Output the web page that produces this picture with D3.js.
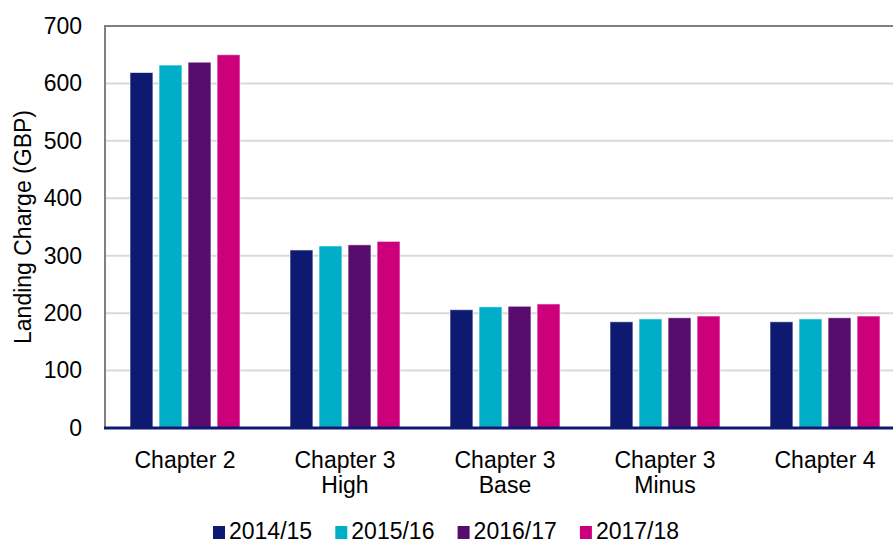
<!DOCTYPE html>
<html>
<head>
<meta charset="utf-8">
<script src="https://cdn.jsdelivr.net/npm/d3@7"></script>
<style>
	body { margin: 0; background: #fff; }
	text { font-family: Arial, "Liberation Sans", sans-serif; fill: #000; }
</style>
</head>
<body>
<script>
var categories = [['Chapter 2'], ['Chapter 3', 'High'], ['Chapter 3', 'Base'], ['Chapter 3', 'Minus'], ['Chapter 4']];
var seriesNames = ['2014/15', '2015/16', '2016/17', '2017/18'];
var seriesColors = ['#0e1a72', '#00aec7', '#580c6e', '#cc007a'];
var values2014 = [619, 310, 206, 185, 185];
var values2015 = [632, 317, 211, 190, 190];
var values2016 = [637, 319, 212, 192, 192];
var values2017 = [650, 325, 216, 195, 195];
var yTicks = [0, 100, 200, 300, 400, 500, 600, 700];

var seriesValues = [values2014, values2015, values2016, values2017];
var width = 893, height = 544;
var plotLeft = 105, plotRight = 905, plotTop = 26, plotBottom = 428;
var fontSize = 23;

var svg = d3.select('body').append('svg')
	.attr('width', width)
	.attr('height', height);

var catKeys = categories.map(function (c) { return c.join(' '); });
var x0 = d3.scaleBand()
	.domain(catKeys)
	.range([plotLeft, plotRight])
	.paddingInner(0.3125)
	.paddingOuter(0.15625);
var x1 = d3.scaleBand()
	.domain(seriesNames)
	.range([0, x0.bandwidth()])
	.paddingInner(0.21)
	.paddingOuter(0);
var y = d3.scaleLinear()
	.domain([0, 700])
	.range([plotBottom, plotTop]);

// gridlines
svg.append('g').selectAll('line').data(yTicks.slice(1, -1)).enter().append('line')
	.attr('x1', plotLeft).attr('x2', plotRight)
	.attr('y1', function (d) { return y(d); })
	.attr('y2', function (d) { return y(d); })
	.attr('stroke', '#d9d9d9')
	.attr('stroke-width', 2);

// frame top + left
svg.append('line')
	.attr('x1', plotLeft).attr('x2', plotRight)
	.attr('y1', y(700)).attr('y2', y(700))
	.attr('stroke', '#808080').attr('stroke-width', 2);
svg.append('line')
	.attr('x1', plotLeft).attr('x2', plotLeft)
	.attr('y1', y(700) - 1).attr('y2', y(0))
	.attr('stroke', '#808080').attr('stroke-width', 2);

// bars
var rows = catKeys.map(function (k, i) {
	return { key: k, vals: seriesNames.map(function (s, j) { return { s: s, j: j, v: seriesValues[j][i] }; }) };
});
svg.append('g').selectAll('g').data(rows).enter().append('g')
	.attr('transform', function (d) { return 'translate(' + x0(d.key) + ',0)'; })
	.selectAll('rect').data(function (d) { return d.vals; }).enter().append('rect')
	.attr('x', function (d) { return x1(d.s); })
	.attr('y', function (d) { return y(d.v); })
	.attr('width', x1.bandwidth())
	.attr('height', function (d) { return y(0) - y(d.v); })
	.attr('fill', function (d) { return seriesColors[d.j]; })
	.attr('stroke', 'rgba(255,255,255,0.6)')
	.attr('stroke-width', 1);

// x axis line
svg.append('line')
	.attr('x1', plotLeft - 1).attr('x2', plotRight)
	.attr('y1', y(0)).attr('y2', y(0))
	.attr('stroke', '#0e1a72').attr('stroke-width', 3);

// y axis
var yAxis = d3.axisLeft(y).tickValues(yTicks).tickSize(0).tickPadding(23);
var yAxisEl = svg.append('g')
	.attr('transform', 'translate(' + plotLeft + ',0)')
	.call(yAxis);
yAxisEl.select('.domain').remove();
yAxisEl.selectAll('text')
	.style('font-size', fontSize + 'px')
	.attr('fill', '#000');

// x labels
var xLabels = svg.append('g').selectAll('text').data(categories).enter().append('text')
	.attr('text-anchor', 'middle')
	.attr('x', function (d) { return x0(d.join(' ')) + x0.bandwidth() / 2; })
	.attr('y', 468)
	.style('font-size', fontSize + 'px');
xLabels.selectAll('tspan').data(function (d) { return d; }).enter().append('tspan')
	.attr('x', function () { return d3.select(this.parentNode).attr('x'); })
	.attr('dy', function (d, i) { return i ? 25 : 0; })
	.text(function (d) { return d; });

// y title
svg.append('text')
	.attr('transform', 'translate(31,' + ((plotTop + plotBottom) / 2) + ') rotate(-90)')
	.attr('text-anchor', 'middle')
	.style('font-size', fontSize + 'px')
	.text('Landing Charge (GBP)');

// legend
var legend = svg.append('g').selectAll('g').data(seriesNames).enter().append('g')
	.attr('transform', function (d, i) { return 'translate(' + (213 + i * 122.3) + ',0)'; });
legend.append('rect')
	.attr('x', 0).attr('y', 526)
	.attr('width', 12).attr('height', 13)
	.attr('fill', function (d, i) { return seriesColors[i]; });
legend.append('text')
	.attr('x', 16).attr('y', 539)
	.style('font-size', fontSize + 'px')
	.text(function (d) { return d; });
</script>
</body>
</html>
